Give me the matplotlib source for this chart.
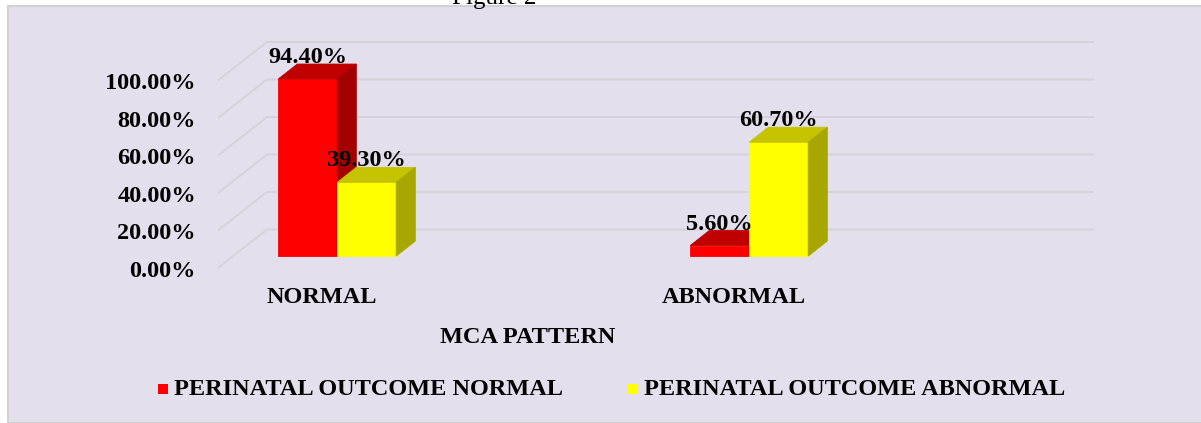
"""Pseudo-3D grouped bar chart: MCA pattern vs perinatal outcome."""
import matplotlib
matplotlib.use("Agg")
import matplotlib.pyplot as plt
from matplotlib.patches import Polygon, Rectangle

categories = ["NORMAL", "ABNORMAL"]
series_names = ["PERINATAL OUTCOME NORMAL", "PERINATAL OUTCOME ABNORMAL"]
outcome_normal = [94.4, 5.6]
outcome_abnormal = [39.3, 60.7]
y_ticks = [0, 20, 40, 60, 80, 100]

# colours: front, top, side
face_colors = [("#FF0000", "#C00000", "#A30000"), ("#FFFF00", "#C6C300", "#A8A600")]
bg = "#E4DFEC"
grid_color = "#D5D2D9"
font = "Liberation Serif"
fs = 17.5

W, H = 1201, 423
fig = plt.figure(figsize=(W / 100, H / 100), dpi=100)
fig.patch.set_facecolor("white")
fig.patches.append(Rectangle((8 / W, 0), 1, 1 - 6 / H, transform=fig.transFigure,
                             facecolor=bg, edgecolor="#D2D2D2", linewidth=1.5, zorder=-10))
fig.text(494 / W, 1 - 4 / H, "Figure 2", ha="center", va="baseline",
         fontsize=18, family=font, color="black")

ax = fig.add_axes([0, 0, 1, 1])
ax.set_axis_off()
ax.patch.set_alpha(0)
# one category slot = 412 px, 100 % = 187.5 px
ax.set_xlim(-322 / 412, (W - 322) / 412)
ax.set_ylim(-(H - 268) / 1.875, 268 / 1.875)

# floor depth vector (data units)
ddx, ddy = 49 / 412, 38.5 / 1.875
x_front_left = (218 - 322) / 412
x_back_right = (1094 - 322) / 412

for v in y_ticks:
    ax.plot([x_front_left, x_front_left + ddx, x_back_right], [v, v + ddy, v + ddy],
            color=grid_color, lw=1.4, solid_capstyle="butt", zorder=1)
    ax.text((196 - 322) / 412, v - 4.6, f"{v:.2f}%", ha="right", va="baseline",
            fontsize=fs, fontweight="bold", family=font)

bar_w = 59 / 412
f0, fd = 0.31, 0.39  # bar front position and depth as fraction of floor depth
ox, oy = f0 * ddx, f0 * ddy
bx, by = fd * ddx, fd * ddy

for i in range(len(categories)):
    for j, vals in enumerate([outcome_normal, outcome_abnormal]):
        v = vals[i]
        front, top, side = face_colors[j]
        x0 = i + ox + (j - 1) * bar_w
        x1 = x0 + bar_w
        y0, y1 = oy, oy + v
        ax.bar(x0, v, width=bar_w, bottom=y0, align="edge", color=front,
               edgecolor=front, linewidth=0.6, zorder=3 + 2 * j)
        ax.add_patch(Polygon([(x0, y1), (x1, y1), (x1 + bx, y1 + by), (x0 + bx, y1 + by)],
                             closed=True, facecolor=top, edgecolor=top, lw=0.6, zorder=3 + 2 * j))
        ax.add_patch(Polygon([(x1, y0), (x1, y1), (x1 + bx, y1 + by), (x1 + bx, y0 + by)],
                             closed=True, facecolor=side, edgecolor=side, lw=0.6, zorder=3 + 2 * j))
        ax.text((x0 + x1) / 2, y1 + 8.5, f"{v:.2f}%", ha="center", va="baseline",
                fontsize=fs, fontweight="bold", family=font, zorder=10)

for i, cat in enumerate(categories):
    ax.text(i, -15.5, cat, ha="center", va="center", fontsize=fs,
            fontweight="bold", family=font)
ax.text(0.5, -37.3, "MCA PATTERN", ha="center", va="center", fontsize=fs,
        fontweight="bold", family=font)

# legend
leg_y = (268 - 389) / 1.875
sq = 10 / 412
for j, (name, x_px) in enumerate(zip(series_names, [158, 628])):
    xs = (x_px - 322) / 412
    ax.add_patch(Rectangle((xs, leg_y - 5 / 1.875), sq, 10 / 1.875,
                           facecolor=face_colors[j][0], edgecolor="none"))
    ax.text(xs + sq + 6 / 412, leg_y, name, ha="left", va="center", fontsize=fs,
            fontweight="bold", family=font)

fig.savefig("out.png", dpi=100)
